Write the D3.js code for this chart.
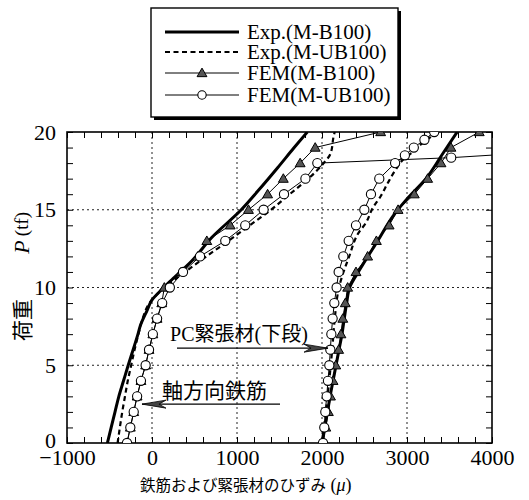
<!DOCTYPE html>
<html>
<head>
<meta charset="utf-8">
<script src="https://cdn.jsdelivr.net/npm/d3@7"></script>
<style>
  html, body { margin: 0; padding: 0; background: #fff; }
  svg { display: block; }
</style>
</head>
<body>
<svg id="chart" width="529" height="500"></svg>
<script>
// ---------------- DATA ([strain (μ), load P (tf)]) ----------------
const xTicksMajor = [-1000, 0, 1000, 2000, 3000, 4000];
const yTicksMajor = [0, 5, 10, 15, 20];
const legendLabels = ["Exp.(M-B100)", "Exp.(M-UB100)", "FEM(M-B100)", "FEM(M-UB100)"];

// Axial rebar (軸方向鉄筋)
const rebarExpB = [[-525,0],[-480,1],[-435,2],[-390,3],[-335,4],[-280,5],[-222,6],[-165,7],[-140,7.5],[-60,8.5],[0,9.2],[120,9.9],[233,10.5],[467,11.7],[700,13.2],[1050,15],[1245,16.2],[1478,17.7],[1673,19],[1828,20]];
const rebarExpUB = [[-405,0],[-378,1],[-350,2],[-318,3],[-285,4],[-245,5],[-205,6],[-160,7],[-110,8],[-30,9],[150,10],[390,11],[640,12],[900,13],[1150,14],[1400,15],[1620,16],[1840,17],[2020,18],[2100,18.6],[2140,19.8],[2150,20]];
const rebarFemB = [[-294,0],[-255,1],[-215,2],[-175,3],[-130,4],[-75,5],[-35,6],[10,7],[60,8],[115,9],[145,10],[345,11],[540,12],[645,13],[920,14],[1135,15],[1360,16],[1545,17],[1743,18],[1920,19],[2690,20]];
const rebarFemUB = [[-294,0],[-255,1],[-215,2],[-175,3],[-130,4],[-75,5],[-35,6],[10,7],[60,8],[120,9],[210,10],[365,11],[565,12],[862,13],[1097,14],[1313,15],[1553,16],[1805,17],[1945,18],[3520,18.35],[4400,18.65]];

// PC tendon, lower level (PC緊張材(下段))
const pcExpB = [[2000,0],[2030,1],[2065,2],[2095,3],[2130,4],[2165,5],[2200,6],[2235,7],[2262,8],[2290,9],[2325,10],[2450,11.2],[2655,13],[2850,14.7],[3000,15.7],[3223,17],[3420,18.6],[3590,20]];
const pcExpUB = [[2000,0],[2045,2],[2085,4],[2120,6],[2150,8],[2200,10],[2320,12],[2440,13.6],[2510,14.1],[2596,15.1],[2694,15.9],[2772,16.7],[2870,17.6],[2968,18.3],[3066,18.7],[3184,19.3],[3282,19.7],[3345,20]];
const pcFemB = [[2015,0],[2045,1],[2075,2],[2100,3],[2130,4],[2162,5],[2196,6],[2223,7],[2245,8],[2274,9],[2302,10],[2400,11],[2537,12],[2640,13],[2790,14],[2895,15],[3086,16],[3243,17],[3400,18],[3517,19],[3850,20]];
const pcFemUB = [[2012,0],[2027,1],[2039,2],[2055,3],[2070,4],[2086,5],[2098,6],[2110,7],[2125,8],[2145,9],[2172,10],[2196,11],[2251,12],[2314,13],[2400,14],[2498,15],[2576,16],[2674,17],[2860,18],[2975,18.5],[3080,19],[3205,19.5],[3320,20]];

// ---------------- LAYOUT ----------------
const svg = d3.select("#chart");
const L = 67, R = 492, T = 132, B = 443;
const x = d3.scaleLinear().domain([-1000, 4000]).range([L, R]);
const y = d3.scaleLinear().domain([0, 20]).range([B, T]);
const serif = "'Liberation Serif', 'Times New Roman', serif";
const cjk = "'Liberation Serif', 'Noto Sans CJK JP', serif";

svg.append("defs").append("clipPath").attr("id", "plotclip")
  .append("rect").attr("x", L).attr("y", T).attr("width", R - L).attr("height", B - T);

// gridlines
const grid = svg.append("g");
grid.selectAll("line.gx").data(xTicksMajor.filter(d => d > -1000 && d < 4000)).enter()
  .append("line").attr("x1", d => x(d)).attr("x2", d => x(d)).attr("y1", T).attr("y2", B)
  .attr("stroke", "#222").attr("stroke-width", 1).attr("stroke-dasharray", "2,3");
grid.selectAll("line.gy").data(yTicksMajor.filter(d => d > 0 && d < 20)).enter()
  .append("line").attr("y1", d => y(d)).attr("y2", d => y(d)).attr("x1", L).attr("x2", R)
  .attr("stroke", "#222").attr("stroke-width", 1).attr("stroke-dasharray", "2,3");

// minor ticks (inward) on all four sides
const xMinor = d3.range(-1000, 4001, 200);
const yMinor = d3.range(0, 21, 1);
function styleTicks(g) { g.select(".domain").remove(); g.selectAll("line").attr("stroke", "#000").attr("stroke-width", 1); }
svg.append("g").attr("transform", `translate(0,${B})`).call(d3.axisBottom(x).tickValues(xMinor).tickSize(-6).tickFormat("")).call(styleTicks);
svg.append("g").attr("transform", `translate(0,${T})`).call(d3.axisTop(x).tickValues(xMinor).tickSize(-6).tickFormat("")).call(styleTicks);
svg.append("g").attr("transform", `translate(${L},0)`).call(d3.axisLeft(y).tickValues(yMinor).tickSize(-6).tickFormat("")).call(styleTicks);
svg.append("g").attr("transform", `translate(${R},0)`).call(d3.axisRight(y).tickValues(yMinor).tickSize(-6).tickFormat("")).call(styleTicks);

// tick labels
const xl = svg.append("g").attr("transform", `translate(0,${B})`)
  .call(d3.axisBottom(x).tickValues(xTicksMajor).tickSize(0).tickPadding(6).tickFormat(d3.format("d")));
xl.select(".domain").remove();
xl.selectAll("text").style("font-family", serif).style("font-size", "22px").attr("fill", "#000");
const yl = svg.append("g").attr("transform", `translate(${L},0)`)
  .call(d3.axisLeft(y).tickValues(yTicksMajor).tickSize(0).tickPadding(11).tickFormat(d3.format("d")));
yl.select(".domain").remove();
yl.selectAll("text").style("font-family", serif).style("font-size", "22px").attr("fill", "#000");
yl.selectAll("text").filter(d => d === 0).attr("dy", "0.2em");

// frame
svg.append("rect").attr("x", L).attr("y", T).attr("width", R - L).attr("height", B - T)
  .attr("fill", "none").attr("stroke", "#000").attr("stroke-width", 1.6);

// series
const line = d3.line().x(d => x(d[0])).y(d => y(d[1]));
const plot = svg.append("g").attr("clip-path", "url(#plotclip)");
function expLine(data, dashed) {
  plot.append("path").datum(data).attr("d", line.curve(d3.curveMonotoneY)).attr("fill", "none")
    .attr("stroke", "#000").attr("stroke-width", dashed ? 2.2 : 3)
    .attr("stroke-dasharray", dashed ? "5,3.5" : null);
}
function femLine(data) {
  plot.append("path").datum(data).attr("d", line.curve(d3.curveLinear)).attr("fill", "none")
    .attr("stroke", "#000").attr("stroke-width", 1);
}
const triPath = d3.symbol().type(d3.symbolTriangle).size(42)();
function triangles(data) {
  plot.append("g").selectAll("path").data(data).enter().append("path")
    .attr("d", triPath).attr("transform", d => `translate(${x(d[0])},${y(d[1]) + 0.8})`)
    .attr("fill", "#555").attr("stroke", "#000").attr("stroke-width", 1);
}
function circles(data) {
  plot.append("g").selectAll("circle").data(data).enter().append("circle")
    .attr("cx", d => x(d[0])).attr("cy", d => y(d[1])).attr("r", 4.6)
    .attr("fill", "#fff").attr("stroke", "#000").attr("stroke-width", 1.1);
}

expLine(rebarExpB, false); expLine(pcExpB, false);
expLine(rebarExpUB, true); expLine(pcExpUB, true);
femLine(rebarFemB); femLine(pcFemB);
femLine(rebarFemUB); femLine(pcFemUB);
triangles(rebarFemB); triangles(pcFemB);
circles(rebarFemUB); circles(pcFemUB);

// annotations
function arrow(x1, x2, yy) {
  const px1 = x(x1), px2 = x(x2), py = y(yy);
  svg.append("line").attr("x1", px1).attr("x2", px2).attr("y1", py).attr("y2", py)
    .attr("stroke", "#000").attr("stroke-width", 1.4);
  const dir = Math.sign(px2 - px1), len = 24;
  const bx = px2 - dir * len;
  svg.append("path")
    .attr("d", `M${px2},${py} L${bx},${py - 4} L${bx + dir * 7},${py} L${bx},${py + 4} Z`)
    .attr("fill", "#444").attr("stroke", "#000").attr("stroke-width", 0.8);
}
svg.append("text").attr("x", x(212)).attr("y", y(6.56)).attr("font-family", cjk).attr("font-size", 20)
  .attr("fill", "#000").text("PC緊張材(下段)");
arrow(294, 2071, 6.1);
svg.append("text").attr("x", x(118)).attr("y", y(2.9)).attr("font-family", cjk).attr("font-size", 21)
  .attr("fill", "#000").text("軸方向鉄筋");
arrow(1506, -118, 2.5);

// axis titles
const xt = svg.append("text").attr("x", 140).attr("y", 491)
  .attr("font-family", "'Noto Sans CJK JP', sans-serif").attr("font-size", 15.5).attr("fill", "#000");
xt.append("tspan").text("鉄筋および緊張材のひずみ");
xt.append("tspan").attr("font-family", serif).attr("font-size", 18).text(" (");
xt.append("tspan").attr("font-family", serif).attr("font-size", 18).attr("font-style", "italic").text("μ");
xt.append("tspan").attr("font-family", serif).attr("font-size", 18).text(")");

function vtext(t, cy, fam, size, italic) {
  svg.append("text").attr("transform", `translate(21,${cy}) rotate(-90)`)
    .attr("text-anchor", "middle").attr("dominant-baseline", "central")
    .attr("font-family", fam).attr("font-size", size).attr("font-style", italic ? "italic" : null)
    .attr("fill", "#000").text(t);
}
vtext("荷重", 320, "'Noto Sans CJK JP', sans-serif", 21, false);
vtext("P", 247, serif, 22, true);
vtext("(tf)", 224, serif, 19, false);

// legend
const lg = svg.append("g");
lg.append("rect").attr("x", 154).attr("y", 11).attr("width", 247).attr("height", 109).attr("fill", "#000");
lg.append("rect").attr("x", 151).attr("y", 8).attr("width", 247).attr("height", 109)
  .attr("fill", "#fff").attr("stroke", "#000").attr("stroke-width", 1.4);
const rowsY = [32, 52, 73, 95];
const lx1 = 165, lx2 = 239, lmid = 202;
legendLabels.forEach((lab, i) => {
  const yy = rowsY[i];
  const ln = lg.append("line").attr("x1", lx1).attr("x2", lx2).attr("y1", yy).attr("y2", yy).attr("stroke", "#000");
  if (i === 0) ln.attr("stroke-width", 3);
  else if (i === 1) ln.attr("stroke-width", 2.2).attr("stroke-dasharray", "5,3.5");
  else ln.attr("stroke-width", 1);
  if (i === 2) lg.append("path").attr("d", triPath).attr("transform", `translate(${lmid},${yy + 0.8})`)
    .attr("fill", "#555").attr("stroke", "#000");
  if (i === 3) lg.append("circle").attr("cx", lmid).attr("cy", yy).attr("r", 4.2)
    .attr("fill", "#fff").attr("stroke", "#000").attr("stroke-width", 1.1);
  lg.append("text").attr("x", 247).attr("y", yy + 7).style("font-family", serif).style("font-size", "21px")
    .attr("fill", "#000").text(lab);
});
</script>
</body>
</html>
